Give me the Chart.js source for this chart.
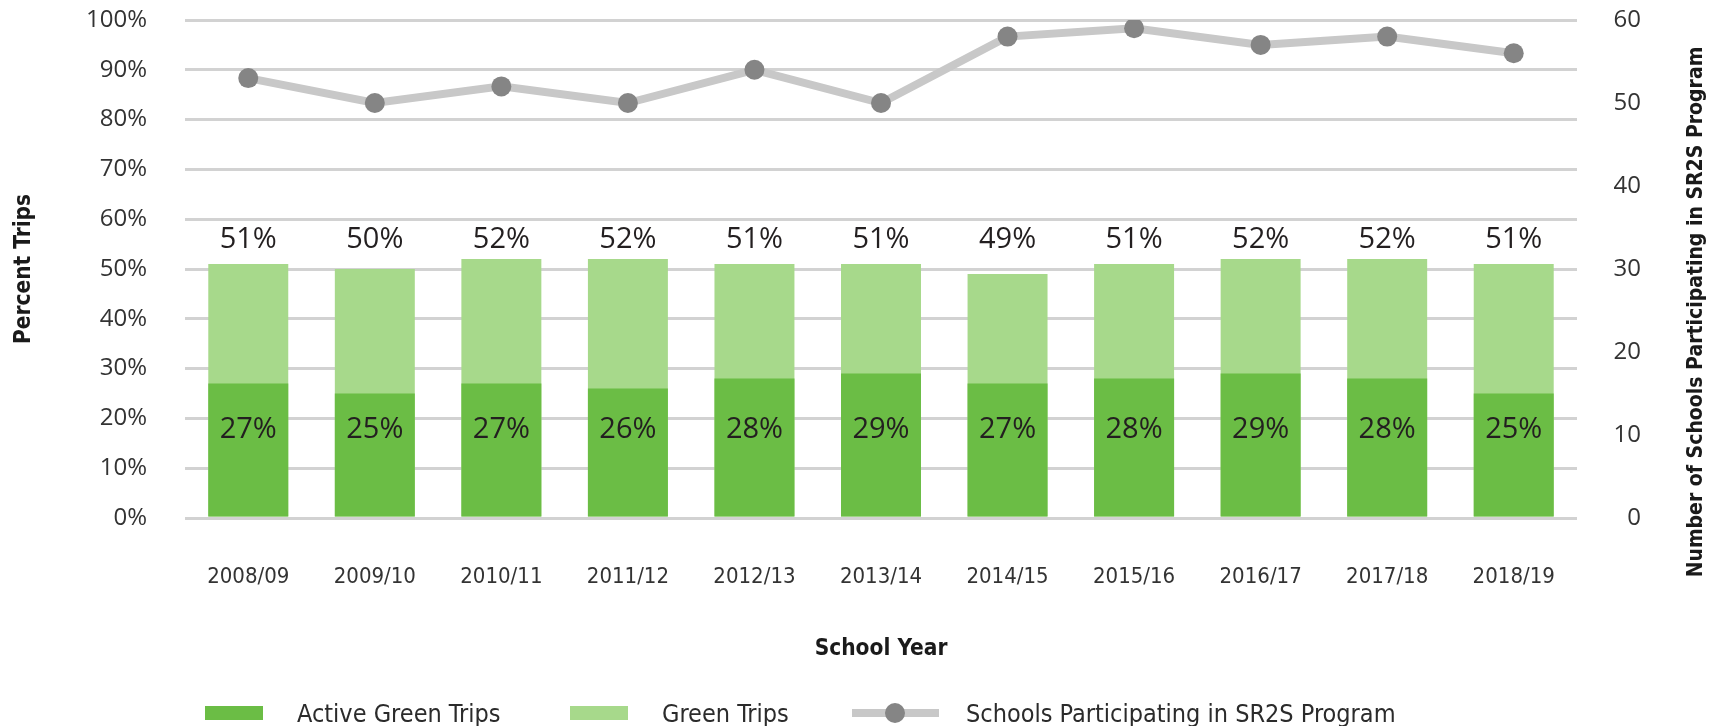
<!DOCTYPE html>
<html>
<head>
<meta charset="utf-8">
<title>Green Trips and SR2S Schools</title>
<script src="https://cdn.jsdelivr.net/npm/chart.js@4.4.1/dist/chart.umd.min.js"></script>
<style>
  html, body { margin: 0; padding: 0; background: #fff; }
  #wrap { position: relative; width: 1719px; height: 726px; }
  #legend {
    position: absolute; left: 205px; top: 697px; height: 32px;
    display: flex; align-items: center;
    font-family: "Liberation Sans Narrow", "DejaVu Sans Condensed", sans-serif;
    font-size: 25px; color: #2b2b2b; white-space: nowrap;
  }
  .item { display: flex; align-items: center; }
  .box { width: 58px; height: 14px; margin-right: 34px; }
  .lineKey { position: relative; width: 87px; height: 22px; margin-right: 27px; }
  .lineKey .bar { position: absolute; left: 0; right: 0; top: 7px; height: 8px; background: #c8c8c8; }
  .lineKey .dot { position: absolute; left: 33px; top: 1px; width: 20px; height: 20px; border-radius: 50%; background: #858585; }
</style>
</head>
<body>
<div id="wrap">
  <canvas id="chart" width="1719" height="726"></canvas>
  <div id="legend"></div>
</div>
<script>
  const years = ['2008/09', '2009/10', '2010/11', '2011/12', '2012/13', '2013/14',
                 '2014/15', '2015/16', '2016/17', '2017/18', '2018/19'];
  const greenTrips = [51, 50, 52, 52, 51, 51, 49, 51, 52, 52, 51];
  const activeGreenTrips = [27, 25, 27, 26, 28, 29, 27, 28, 29, 28, 25];
  const schoolsInProgram = [53, 50, 52, 50, 54, 50, 58, 59, 57, 58, 56];
  const percentTicks = [0, 10, 20, 30, 40, 50, 60, 70, 80, 90, 100];
  const schoolTicks = [0, 10, 20, 30, 40, 50, 60];

  const darkGreen = '#6bbd45';
  const lightGreen = '#a7d98b';
  const lineGray = '#c8c8c8';
  const dotGray = '#858585';
  const textColor = '#333333';
  const narrow = '"Liberation Sans Narrow", "DejaVu Sans Condensed", sans-serif';
  const plain = '"Open Sans", sans-serif';
  const hidden = 'rgba(0,0,0,0)';

  // percent labels sit at a fixed height, not on the bar tops
  const totalLabelAt = 55.8;
  const activeLabelAt = 17.7;
  const rightTitle = 'Number of Schools Participating in SR2S Program';

  const barLabels = {
    id: 'barLabels',
    afterDatasetsDraw(chart) {
      const ctx = chart.ctx;
      const y = chart.scales.y;
      const meta = chart.getDatasetMeta(2);
      ctx.save();
      ctx.font = '29px ' + plain;
      ctx.fillStyle = '#231f20';
      ctx.textAlign = 'center';
      ctx.textBaseline = 'middle';
      meta.data.forEach((bar, i) => {
        ctx.fillText(greenTrips[i] + '%', bar.x, y.getPixelForValue(totalLabelAt));
        ctx.fillText(activeGreenTrips[i] + '%', bar.x, y.getPixelForValue(activeLabelAt));
      });
      ctx.restore();
    }
  };

  // right axis title sits lower than the axis centre and far from the ticks
  const rightAxisTitle = {
    id: 'rightAxisTitle',
    afterDraw(chart) {
      const ctx = chart.ctx;
      const s = chart.scales.y1;
      ctx.save();
      ctx.translate(s.right + 56, chart.chartArea.top + 292);
      ctx.rotate(-Math.PI / 2);
      ctx.font = 'bold 21px ' + narrow;
      ctx.fillStyle = '#1a1a1a';
      ctx.textAlign = 'center';
      ctx.textBaseline = 'middle';
      ctx.fillText(rightTitle, 0, 0);
      ctx.restore();
    }
  };

  const ctx = document.getElementById('chart').getContext('2d');
  const chart = new Chart(ctx, {
    type: 'bar',
    data: {
      labels: years,
      datasets: [
        {
          type: 'line',
          label: 'Schools Participating in SR2S Program',
          data: schoolsInProgram,
          yAxisID: 'y1',
          borderColor: lineGray,
          borderWidth: 8,
          pointRadius: 10,
          pointBackgroundColor: dotGray,
          pointBorderWidth: 0,
          tension: 0,
          order: 1
        },
        {
          label: 'Active Green Trips',
          data: activeGreenTrips,
          yAxisID: 'y',
          backgroundColor: darkGreen,
          grouped: false,
          barPercentage: 0.79,
          categoryPercentage: 0.8,
          order: 2
        },
        {
          label: 'Green Trips',
          data: greenTrips,
          yAxisID: 'y',
          backgroundColor: lightGreen,
          grouped: false,
          barPercentage: 0.79,
          categoryPercentage: 0.8,
          order: 3
        }
      ]
    },
    options: {
      responsive: false,
      animation: false,
      layout: { padding: { top: 20, left: 0, right: 78, bottom: 46 } },
      plugins: {
        legend: { display: false },
        tooltip: { enabled: false }
      },
      scales: {
        x: {
          grid: { display: false, drawTicks: false },
          border: { display: false },
          ticks: { color: textColor, font: { family: narrow, size: 22 }, padding: 46, maxRotation: 0 },
          title: {
            display: true, text: 'School Year', color: '#1a1a1a',
            font: { family: narrow, size: 22.5, weight: 'bold' },
            padding: { top: 0, bottom: 17 }
          },
          afterFit: s => { s.height = 162; }
        },
        y: {
          position: 'left',
          min: 0, max: 100,
          afterBuildTicks: s => { s.ticks = percentTicks.map(v => ({ value: v })); },
          // invisible tick marks push the labels away from the plot
          grid: { color: '#d2d2d2', lineWidth: 3, tickLength: 38, tickColor: hidden },
          border: { display: false },
          ticks: { color: textColor, font: { family: plain, size: 24 }, padding: 0, callback: v => v + '%' },
          title: {
            display: true, text: 'Percent Trips', color: '#1a1a1a',
            font: { family: narrow, size: 22.5, weight: 'bold' },
            padding: { top: 11, bottom: 0 }
          },
          afterFit: s => { s.width = 185; }
        },
        y1: {
          position: 'right',
          min: 0, max: 60,
          afterBuildTicks: s => { s.ticks = schoolTicks.map(v => ({ value: v })); },
          grid: { drawOnChartArea: false, tickLength: 31, tickColor: hidden },
          border: { display: false },
          ticks: { color: textColor, font: { family: plain, size: 24 }, padding: 0, crossAlign: 'far' },
          title: { display: false },
          afterFit: s => { s.width = 64; }
        }
      }
    },
    plugins: [barLabels, rightAxisTitle]
  });

  // legend in the order of the original figure
  const legend = document.getElementById('legend');
  const itemWidths = [365, 282, null];
  [chart.data.datasets[1], chart.data.datasets[2], chart.data.datasets[0]].forEach((ds, i) => {
    const item = document.createElement('div');
    item.className = 'item';
    if (itemWidths[i]) item.style.width = itemWidths[i] + 'px';
    if (ds.type === 'line') {
      item.innerHTML = '<div class="lineKey"><div class="bar"></div><div class="dot"></div></div>';
    } else {
      item.innerHTML = `<div class="box" style="background:${ds.backgroundColor}"></div>`;
    }
    const label = document.createElement('span');
    label.textContent = ds.label;
    item.appendChild(label);
    legend.appendChild(item);
  });
</script>
</body>
</html>
